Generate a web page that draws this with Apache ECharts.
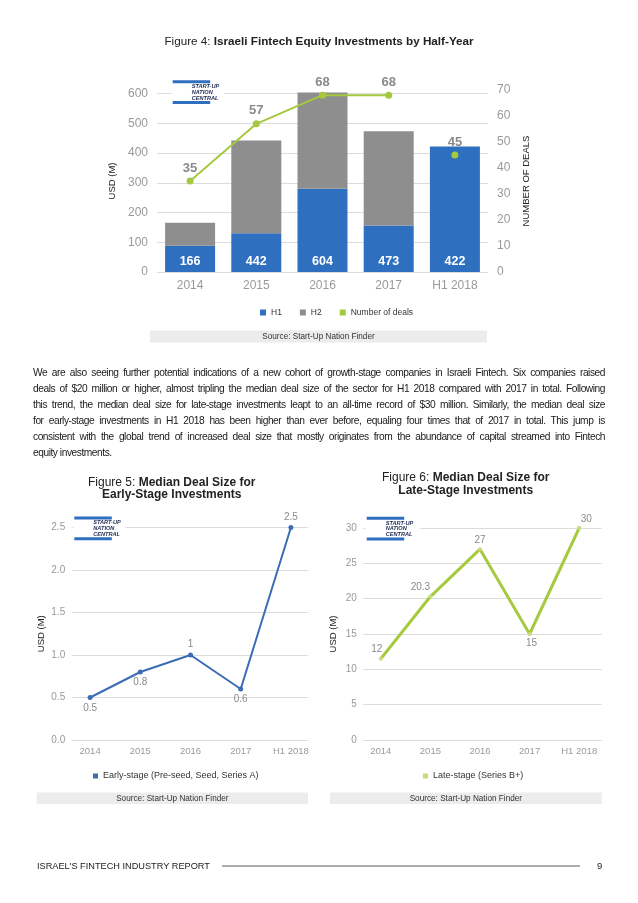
<!DOCTYPE html>
<html>
<head>
<meta charset="utf-8">
<script src="https://cdn.jsdelivr.net/npm/echarts@6/dist/echarts.min.js"></script>
<style>
html,body{margin:0;padding:0;background:#fff;}
#chart{position:absolute;left:0;top:0;width:638px;height:903px;}
#para{position:absolute;left:33px;top:365px;width:572px;font-family:"Liberation Sans",Arial,sans-serif;font-size:10.2px;letter-spacing:-0.45px;line-height:16px;color:#1a1a1a;}
#para .j{text-align:justify;text-align-last:justify;}
</style>
</head>
<body>
<div id="chart"></div>
<div id="para"></div>
<script>
// ---- data ----
const years = ['2014', '2015', '2016', '2017', 'H1 2018'];
const h1Values = [88, 130, 280, 156, 422];
const h2Values = [78, 312, 324, 317, 0];
const totalValues = [166, 442, 604, 473, 422];
const dealsLine = [35, 57, 68, 68, '-'];
const dealsH12018 = ['-', '-', '-', '-', 45];
const earlyStage = [0.5, 0.8, 1, 0.6, 2.5];
const lateStage = [11.5, 20.3, 27, 15, 30];
const lateLabels = ['12', '20.3', '27', '15', '30'];
const leftTicks4 = [0, 612, 100];
const rightTicks4 = [0, 70, 10];
const earlyTicks = [0, 2.5, 0.5];
const lateTicks = [0, 30, 5];
const paragraphLines = [
  'We are also seeing further potential indications of a new cohort of growth-stage companies in Israeli Fintech. Six companies raised',
  'deals of $20 million or higher, almost tripling the median deal size of the sector for H1 2018 compared with 2017 in total. Following',
  'this trend, the median deal size for late-stage investments leapt to an all-time record of $30 million. Similarly, the median deal size',
  'for early-stage investments in H1 2018 has been higher than ever before, equaling four times that of 2017 in total. This jump is',
  'consistent with the global trend of increased deal size that mostly originates from the abundance of capital streamed into Fintech',
  'equity investments.'
];

// paragraph
const para = document.getElementById('para');
paragraphLines.forEach((t, i) => {
  const d = document.createElement('div');
  if (i < paragraphLines.length - 1) d.className = 'j';
  d.textContent = t;
  para.appendChild(d);
});

const F = '"Liberation Sans", Arial, Helvetica, sans-serif';
const BLUE = '#2f6fbf', GRAY = '#8e8e8e', GREEN = '#a4c93c', LINEBLUE = '#3b6db4', LINEGREEN = '#a6ca3e';
const AXC = '#9a9a9a', GRID = '#dcdcdc';

const earlyPos = ['bottom', 'bottom', 'top', 'bottom', 'top'];
const latePos = ['top', 'top', 'top', 'bottom', 'top'];
const lateOff = [[-4, 0], [-10, 0], [0, 0], [2, 0], [7, 0]];

function logo(x, y, boxW) {
  return [
    { type: 'rect', z: 100, shape: { x: x - 1, y: y - 2, width: boxW, height: 26 }, style: { fill: '#fff' } },
    { type: 'rect', z: 101, shape: { x: x, y: y, width: 37.5, height: 3 }, style: { fill: '#2f6fbf' } },
    { type: 'rect', z: 101, shape: { x: x, y: y + 20.8, width: 37.5, height: 3 }, style: { fill: '#2f6fbf' } },
    { type: 'text', z: 101, x: x + 19, y: y + 3.4, style: { text: 'START-UP\nNATION\nCENTRAL', fontSize: 5.6, fontWeight: 'bold', fontStyle: 'italic', fontFamily: F, fill: '#1d2b52', lineHeight: 5.8 } }
  ];
}
function source(x1, x2, y1, y2) {
  return [
    { type: 'rect', z: 10, shape: { x: x1, y: y1, width: x2 - x1, height: y2 - y1 }, style: { fill: '#ececec' } },
    { type: 'text', z: 11, x: (x1 + x2) / 2, y: (y1 + y2) / 2, style: { text: 'Source: Start-Up Nation Finder', fontSize: 8.2, fontFamily: F, fill: '#333', align: 'center', verticalAlign: 'middle' } }
  ];
}

const chart = echarts.init(document.getElementById('chart'), null, { renderer: 'canvas' });
const catAxis = (gi, fs, margin) => ({
  type: 'category', gridIndex: gi, data: years,
  axisLine: { show: false }, axisTick: { show: false },
  axisLabel: { fontSize: fs, color: AXC, margin: margin, fontFamily: F }
});
const richTitle = (sz, lh) => ({
  a: { fontSize: sz, color: '#222', fontWeight: 'normal', fontFamily: F, lineHeight: lh },
  b: { fontSize: sz, color: '#222', fontWeight: 'bold', fontFamily: F, lineHeight: lh }
});

const option = {
  animation: false,
  textStyle: { fontFamily: F },
  title: [
    { text: '{a|Figure 4: }{b|Israeli Fintech Equity Investments by Half-Year}', left: 'center', top: 35, padding: 0, textStyle: { fontWeight: 'normal', rich: richTitle(11.7, 14) } },
    { text: '{a|Figure 5: }{b|Median Deal Size for}\n{b|Early-Stage Investments}', left: 171.7, textAlign: 'center', top: 476.5, padding: 0, textStyle: { fontWeight: 'normal', rich: richTitle(12, 12.3) } },
    { text: '{a|Figure 6: }{b|Median Deal Size for}\n{b|Late-Stage Investments}', left: 465.7, textAlign: 'center', top: 471.5, padding: 0, textStyle: { fontWeight: 'normal', rich: richTitle(12, 13) } }
  ],
  legend: [
    { left: 260, top: 308, padding: 0, itemWidth: 6, itemHeight: 6, itemGap: 18, icon: 'rect', data: ['H1', 'H2', 'Number of deals'], textStyle: { fontSize: 8.5, color: '#333', fontFamily: F } },
    { left: 93, top: 771.5, padding: 0, itemWidth: 5, itemHeight: 5, icon: 'rect', data: ['Early-stage (Pre-seed, Seed, Series A)'], textStyle: { fontSize: 9, color: '#333', fontFamily: F } },
    { left: 423, top: 771.5, padding: 0, itemWidth: 5, itemHeight: 5, icon: 'rect', data: ['Late-stage (Series B+)'], textStyle: { fontSize: 9, color: '#333', fontFamily: F } }
  ],
  grid: [
    { left: 157, top: 90, width: 331, height: 182 },
    { left: 65, top: 527.5, width: 251, height: 212.5 },
    { left: 71.7, top: 527.5, width: 236.6, height: 212.5 },
    { left: 356, top: 528, width: 248, height: 212 },
    { left: 363.3, top: 528, width: 238.4, height: 212 }
  ],
  xAxis: [
    catAxis(0, 12, 8),
    catAxis(1, 9.5, 6),
    { type: 'category', gridIndex: 2, data: years, show: false },
    catAxis(3, 9.5, 6),
    { type: 'category', gridIndex: 4, data: years, show: false }
  ],
  yAxis: [
    { type: 'value', gridIndex: 0, min: leftTicks4[0], max: leftTicks4[1], interval: leftTicks4[2],
      axisLine: { show: false }, axisTick: { show: false },
      axisLabel: { fontSize: 12, color: AXC, margin: 9, showMaxLabel: false, fontFamily: F },
      splitLine: { show: true, showMaxLine: false, lineStyle: { color: GRID, width: 1 } },
      name: 'USD (M)', nameLocation: 'middle', nameRotate: 90, nameGap: 37, nameTextStyle: { fontSize: 9.5, color: '#222', fontFamily: F } },
    { type: 'value', gridIndex: 0, position: 'right', min: rightTicks4[0], max: rightTicks4[1], interval: rightTicks4[2],
      axisLine: { show: false }, axisTick: { show: false }, splitLine: { show: false },
      axisLabel: { fontSize: 12, color: AXC, margin: 9, fontFamily: F },
      name: 'NUMBER OF DEALS', nameLocation: 'middle', nameRotate: 90, nameGap: 33, nameTextStyle: { fontSize: 9.5, color: '#222', fontFamily: F } },
    { type: 'value', gridIndex: 1, min: earlyTicks[0], max: earlyTicks[1], show: false, splitLine: { show: false } },
    { type: 'value', gridIndex: 2, min: earlyTicks[0], max: earlyTicks[1], interval: earlyTicks[2],
      axisLine: { show: false }, axisTick: { show: false },
      axisLabel: { fontSize: 10, color: AXC, margin: 6.5, formatter: v => v.toFixed(1), fontFamily: F },
      splitLine: { show: true, lineStyle: { color: GRID } },
      name: 'USD (M)', nameLocation: 'middle', nameRotate: 90, nameGap: 25, nameTextStyle: { fontSize: 9.5, color: '#222', fontFamily: F } },
    { type: 'value', gridIndex: 3, min: lateTicks[0], max: lateTicks[1], show: false, splitLine: { show: false } },
    { type: 'value', gridIndex: 4, min: lateTicks[0], max: lateTicks[1], interval: lateTicks[2],
      axisLine: { show: false }, axisTick: { show: false },
      axisLabel: { fontSize: 10, color: AXC, margin: 6.5, fontFamily: F },
      splitLine: { show: true, lineStyle: { color: GRID } },
      name: 'USD (M)', nameLocation: 'middle', nameRotate: 90, nameGap: 25, nameTextStyle: { fontSize: 9.5, color: '#222', fontFamily: F } }
  ],
  series: [
    { name: 'H1', type: 'bar', xAxisIndex: 0, yAxisIndex: 0, stack: 'total', barWidth: 50, data: h1Values,
      itemStyle: { color: BLUE },
      label: { show: true, position: 'insideBottom', distance: 4, formatter: p => String(totalValues[p.dataIndex]), color: '#fff', fontWeight: 'bold', fontSize: 12.5, fontFamily: F } },
    { name: 'H2', type: 'bar', xAxisIndex: 0, yAxisIndex: 0, stack: 'total', barWidth: 50, data: h2Values,
      itemStyle: { color: GRAY } },
    { name: 'Number of deals', type: 'line', xAxisIndex: 0, yAxisIndex: 1, data: dealsLine, connectNulls: false,
      symbol: 'circle', symbolSize: 7, lineStyle: { color: GREEN, width: 2 }, itemStyle: { color: GREEN },
      label: { show: true, position: 'top', distance: 3, color: '#8a8a8a', fontSize: 13, fontWeight: 'bold', fontFamily: F }, z: 5 },
    { name: 'Number of deals', type: 'line', xAxisIndex: 0, yAxisIndex: 1, data: dealsH12018,
      symbol: 'circle', symbolSize: 7, lineStyle: { color: GREEN, width: 2 }, itemStyle: { color: GREEN },
      label: { show: true, position: 'top', distance: 3, color: '#8a8a8a', fontSize: 13, fontWeight: 'bold', fontFamily: F }, z: 5 },
    { name: 'Early-stage (Pre-seed, Seed, Series A)', type: 'line', xAxisIndex: 1, yAxisIndex: 2,
      data: earlyStage.map((v, i) => ({ value: v, label: { position: earlyPos[i] } })),
      symbol: 'circle', symbolSize: 5, lineStyle: { color: LINEBLUE, width: 2 }, itemStyle: { color: LINEBLUE },
      label: { show: true, distance: 3, color: '#8a8a8a', fontSize: 10, fontFamily: F } },
    { name: 'Late-stage (Series B+)', type: 'line', xAxisIndex: 3, yAxisIndex: 4,
      data: lateStage.map((v, i) => ({ value: v, label: { position: latePos[i], offset: lateOff[i] } })),
      symbol: 'circle', symbolSize: 4, lineStyle: { color: LINEGREEN, width: 3 }, itemStyle: { color: '#c4dc7a' },
      label: { show: true, distance: 2, color: '#8a8a8a', fontSize: 10, fontFamily: F, formatter: p => lateLabels[p.dataIndex] } }
  ],
  graphic: [].concat(
    logo(172.7, 80.2, 52),
    logo(74.3, 516.5, 52),
    logo(366.7, 516.8, 54),
    source(150, 487, 330.5, 342.5),
    source(36.7, 308, 792.5, 804),
    source(330, 601.7, 792.5, 804),
    [
      { type: 'text', x: 37, y: 866, style: { text: "ISRAEL'S FINTECH INDUSTRY REPORT", fontSize: 9.2, fontFamily: F, fill: '#222', verticalAlign: 'middle' } },
      { type: 'line', shape: { x1: 222, y1: 866, x2: 580, y2: 866 }, style: { stroke: '#333', lineWidth: 0.8 } },
      { type: 'text', x: 597, y: 866, style: { text: '9', fontSize: 9.5, fontFamily: F, fill: '#222', verticalAlign: 'middle' } }
    ]
  )
};
chart.setOption(option);
</script>
</body>
</html>
